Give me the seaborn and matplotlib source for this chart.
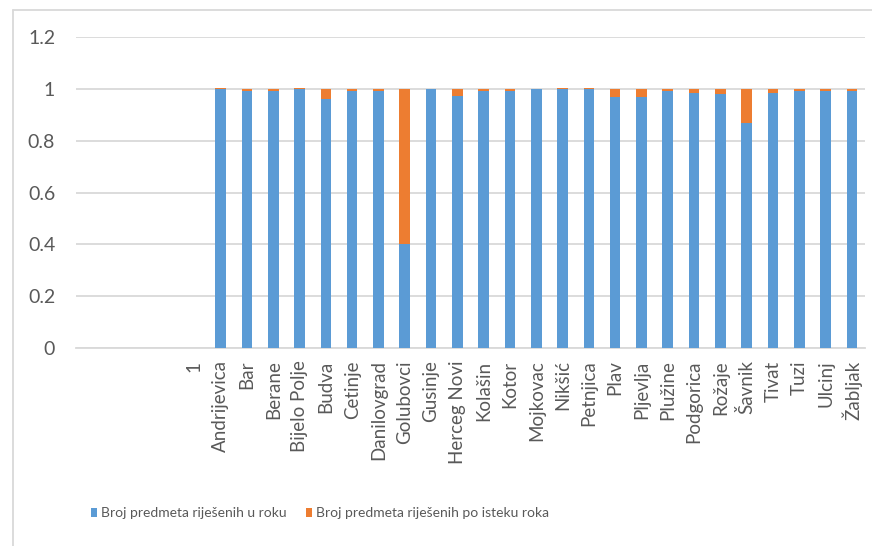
import numpy as np
import pandas as pd
import matplotlib
matplotlib.use("Agg")
import matplotlib.pyplot as plt
import seaborn as sns
from matplotlib.patches import Patch

categories = [" ", "  ", "   ", "    ", "1",
              "Andrijevica", "Bar", "Berane", "Bijelo Polje", "Budva", "Cetinje",
              "Danilovgrad", "Golubovci", "Gusinje", "Herceg Novi", "Kolašin", "Kotor",
              "Mojkovac", "Nikšić", "Petnjica", "Plav", "Pljevlja", "Plužine",
              "Podgorica", "Rožaje", "Šavnik", "Tivat", "Tuzi", "Ulcinj", "Žabljak"]

u_roku = [np.nan, np.nan, np.nan, np.nan, np.nan,
          0.998, 0.992, 0.992, 0.998, 0.960, 0.992,
          0.992, 0.400, 1.000, 0.971, 0.992, 0.992,
          1.000, 0.998, 0.998, 0.967, 0.967, 0.992,
          0.983, 0.979, 0.868, 0.983, 0.992, 0.992, 0.992]

po_isteku = [np.nan, np.nan, np.nan, np.nan, np.nan,
             0.004, 0.008, 0.008, 0.004, 0.040, 0.008,
             0.008, 0.600, 0.000, 0.029, 0.008, 0.008,
             0.000, 0.004, 0.004, 0.033, 0.033, 0.008,
             0.017, 0.021, 0.132, 0.017, 0.008, 0.008, 0.008]

series_names = ["Broj predmeta riješenih u roku", "Broj predmeta riješenih po isteku roka"]
colors = ["#5B9BD5", "#ED7D31"]

df = pd.DataFrame({"cat": categories, "u": u_roku, "po": po_isteku})
df["total"] = df["u"] + df["po"]

sns.set_theme(style="white")
plt.rcParams["font.family"] = ["Lato", "DejaVu Sans"]
text_color = "#595959"

fig = plt.figure(figsize=(8.72, 5.46), dpi=100)
ax = fig.add_axes([76 / 872, 1 - 348 / 546, (865 - 76) / 872, (348 - 37) / 546])

sns.barplot(data=df, x="cat", y="total", order=categories, color=colors[1],
            width=0.4, saturation=1, ax=ax, errorbar=None, zorder=3)
sns.barplot(data=df, x="cat", y="u", order=categories, color=colors[0],
            width=0.4, saturation=1, ax=ax, errorbar=None, zorder=4)
for p in ax.patches:
    p.set_edgecolor("none")

ax.set_ylim(0, 1.2)
ax.set_xlim(-0.5, len(categories) - 0.5)
ax.set_yticks([0, 0.2, 0.4, 0.6, 0.8, 1.0, 1.2])
ax.set_yticklabels(["0", "0.2", "0.4", "0.6", "0.8", "1", "1.2"])
ax.yaxis.grid(True, color="#D9D9D9", linewidth=1.3, zorder=0)
ax.set_axisbelow(True)
for s in ["top", "right", "left"]:
    ax.spines[s].set_visible(False)
ax.spines["bottom"].set_color("#D9D9D9")
ax.spines["bottom"].set_linewidth(1.3)
ax.set_xlabel("")
ax.set_ylabel("")
ax.tick_params(axis="y", length=0, pad=15, labelsize=14, labelcolor=text_color)
ax.tick_params(axis="x", length=0, pad=9, labelsize=13.5, labelcolor=text_color)
ax.set_xticks(range(len(categories)))
ax.set_xticklabels(categories, rotation=90, va="top", ha="center")

handles = [Patch(facecolor=c, edgecolor="none") for c in colors]
fig.legend(handles, series_names, loc="center left", bbox_to_anchor=(78 / 872, 1 - 513 / 546),
           ncol=2, frameon=False, fontsize=10, labelcolor=text_color,
           handlelength=0.45, handleheight=0.6, handletextpad=0.3, columnspacing=1.4)

# chart border (top and left visible, as in the cropped reference)
fig.add_artist(plt.Line2D([13 / 872, 1], [1 - 10 / 546, 1 - 10 / 546],
                          transform=fig.transFigure, color="#D9D9D9", linewidth=1.3))
fig.add_artist(plt.Line2D([13 / 872, 13 / 872], [0, 1 - 10 / 546],
                          transform=fig.transFigure, color="#D9D9D9", linewidth=1.3))

fig.savefig("out.png", dpi=100)
